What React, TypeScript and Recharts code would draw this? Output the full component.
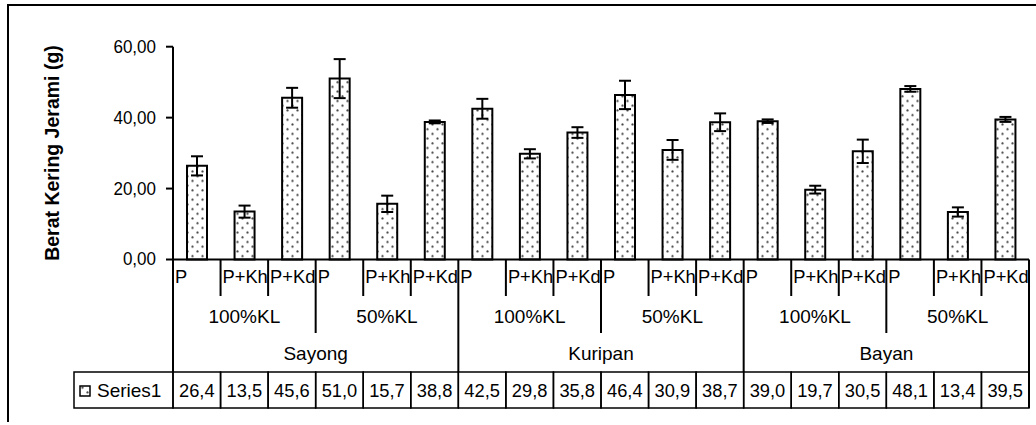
import React from 'react'
import { BarChart, Bar, XAxis, YAxis, ErrorBar } from 'recharts'

const varieties = ['Sayong', 'Kuripan', 'Bayan']
const doses = ['100%KL', '50%KL']
const treatments = ['P', 'P+Kh', 'P+Kd']
const series1 = [26.4, 13.5, 45.6, 51.0, 15.7, 38.8, 42.5, 29.8, 35.8, 46.4, 30.9, 38.7, 39.0, 19.7, 30.5, 48.1, 13.4, 39.5]
const series1Err = [2.7, 1.7, 2.8, 5.5, 2.3, 0.4, 2.8, 1.3, 1.5, 4.0, 2.8, 2.5, 0.5, 1.1, 3.3, 0.8, 1.3, 0.7]
const yTicks = [0, 20, 40, 60]

const data = series1.map((v, i) => ({
  key: i,
  treatment: treatments[i % 3],
  dose: doses[Math.floor(i / 3) % 2],
  variety: varieties[Math.floor(i / 6)],
  value: v,
  err: series1Err[i],
}))

const FONT = '"Liberation Sans", Arial, sans-serif'
const W = 1036
const H = 425
const PLOT_LEFT = 173
const PLOT_RIGHT = 1029
const PLOT_TOP = 46.7
const AXIS_Y = 259.5
const TABLE_TOP = 372
const TABLE_BOTTOM = 408
const COL_W = (PLOT_RIGHT - PLOT_LEFT) / data.length

const fmt = (v: number, d: number) => v.toFixed(d).replace('.', ',')

// plain label text; stretch > 1 makes it a little taller about its baseline
function T({ x, y, anchor = 'middle', size = 19, stretch = 1, children }: any) {
  return (
    <text
      x={x}
      y={y}
      textAnchor={anchor}
      transform={stretch !== 1 ? `translate(0 ${y}) scale(1 ${stretch}) translate(0 ${-y})` : undefined}
      fontFamily={FONT}
      fontSize={size}
      fill="#000"
    >
      {children}
    </text>
  )
}

// multi-level category labels plus the data table row, one column per tick
function CategoryTick(props: any) {
  const { x, payload } = props
  const i = Number(payload.value)
  const d = data[i]
  const left = x - COL_W / 2
  const right = x + COL_W / 2
  let sepBottom = 296
  if (i % 6 === 0) sepBottom = TABLE_TOP
  else if (i % 3 === 0) sepBottom = 333

  return (
    <g>
      <line x1={left} y1={AXIS_Y} x2={left} y2={sepBottom} stroke="#000" strokeWidth={2} />
      {i === data.length - 1 && (
        <line x1={right} y1={AXIS_Y} x2={right} y2={TABLE_BOTTOM} stroke="#000" strokeWidth={2} />
      )}
      <T x={left + 2} y={283} anchor="start" size={18.3}>{d.treatment}</T>
      {i % 3 === 1 && <T x={x} y={323}>{d.dose}</T>}
      {i % 6 === 2 && <T x={right} y={360}>{d.variety}</T>}
      <rect x={left} y={TABLE_TOP} width={COL_W} height={TABLE_BOTTOM - TABLE_TOP} fill="none" stroke="#000" strokeWidth={1.5} />
      <T x={x} y={397} size={18.3}>{fmt(d.value, 1)}</T>
      {i === 0 && (
        <g>
          <rect x={74} y={TABLE_TOP} width={PLOT_LEFT - 74} height={TABLE_BOTTOM - TABLE_TOP} fill="none" stroke="#000" strokeWidth={1.5} />
          <rect x={80} y={386} width={10} height={10} fill="url(#dots)" stroke="#000" strokeWidth={1.5} />
          <T x={97} y={397} anchor="start">Series1</T>
        </g>
      )}
    </g>
  )
}

function ValueTick(props: any) {
  const { x, y, payload } = props
  return <T x={x} y={y + 6} anchor="end" size={17} stretch={1.08}>{fmt(payload.value, 2)}</T>
}

function YTitle() {
  return (
    <text
      x={59}
      y={153}
      transform="rotate(-90, 59, 153)"
      textAnchor="middle"
      fontFamily={FONT}
      fontSize={19.5}
      fontWeight="bold"
      fill="#000"
    >
      Berat Kering Jerami (g)
    </text>
  )
}

export default function App() {
  return (
    <div style={{ position: 'absolute', left: 0, top: 0, width: W, height: H, overflow: 'hidden', background: '#fff' }}>
      <svg width={0} height={0} style={{ position: 'absolute' }}>
        <defs>
          <pattern id="dots" patternUnits="userSpaceOnUse" width={10} height={9.4}>
            <rect width={10} height={9.4} fill="#fff" />
            <circle cx={2.5} cy={2.3} r={1.1} fill="#444" />
            <circle cx={7.5} cy={7} r={1.1} fill="#444" />
          </pattern>
        </defs>
      </svg>
      <div
        style={{
          position: 'absolute',
          left: 7,
          top: 4,
          width: 1100,
          height: 416,
          borderTop: '2px solid #000',
          borderLeft: '2px solid #000',
        }}
      />
      <BarChart
        width={W}
        height={H}
        data={data}
        margin={{ top: PLOT_TOP, right: W - PLOT_RIGHT, bottom: 0.5, left: PLOT_LEFT - 60 }}
        style={{ position: 'absolute', left: 0, top: 0 }}
      >
        <XAxis
          dataKey="key"
          type="category"
          interval={0}
          height={165}
          axisLine={{ stroke: '#000', strokeWidth: 2 }}
          tickLine={false}
          tick={(p: any) => <CategoryTick {...p} />}
        />
        <YAxis
          width={60}
          domain={[0, 60]}
          ticks={yTicks}
          axisLine={{ stroke: '#000', strokeWidth: 2 }}
          tickLine={{ stroke: '#000', strokeWidth: 2 }}
          tickSize={7}
          tickMargin={10}
          tick={(p: any) => <ValueTick {...p} />}
          label={<YTitle />}
        />
        <Bar dataKey="value" fill="url(#dots)" stroke="#000" strokeWidth={2} barSize={20} isAnimationActive={false}>
          <ErrorBar dataKey="err" width={6} stroke="#000" strokeWidth={2} direction="y" />
        </Bar>
      </BarChart>
    </div>
  )
}
